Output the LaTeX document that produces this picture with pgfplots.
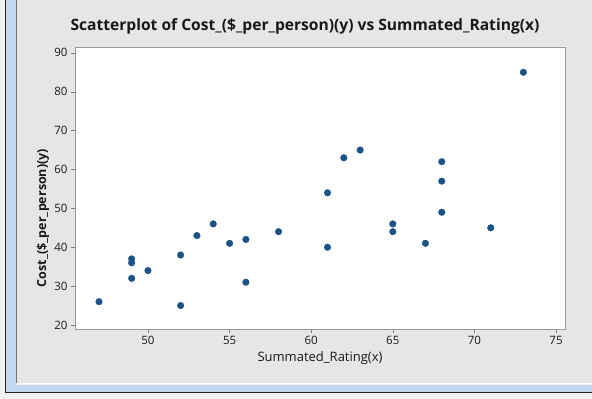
\documentclass[border=0pt]{standalone}
\usepackage{fontspec}
\setmainfont{Open Sans}
\usepackage{pgfplots}
\pgfplotsset{compat=1.18}
\definecolor{bg}{HTML}{E6E6E6}
\definecolor{winblue}{HTML}{C3D8EE}
\definecolor{dotblue}{HTML}{1B5387}
\begin{document}
\begin{tikzpicture}[x=1pt,y=1pt]
\path[use as bounding box] (0,0) rectangle (592,399);
\fill[black!6] (0,0) rectangle (592,399);
\fill[winblue] (6,7) rectangle (592,14);
\fill[winblue] (6,7) rectangle (16,399);
\fill[bg] (17,16) rectangle (592,399);
\draw[black!85, line width=1pt] (5.5,399) -- (5.5,6.5) -- (592,6.5);
\draw[black!55, line width=1pt] (16.5,399) -- (16.5,15.5);
\draw[white, line width=1pt] (17,15.5) -- (592,15.5);
\node[font=\fontsize{15.6}{19}\selectfont\bfseries, text=black!90] at (305,373) {Scatterplot of Cost\_(\$\_per\_person)(y) vs Summated\_Rating(x)};
\node[font=\fontsize{13}{15}\selectfont, text=black!90] at (320,41) {Summated\_Rating(x)};
\node[font=\fontsize{12.5}{15}\selectfont\bfseries, text=black!90, rotate=90] at (43,181) {Cost\_(\$\_per\_person)(y)};
\begin{axis}[at={(75pt,70pt)}, anchor=south west, width=490pt, height=282pt, scale only axis,
  xmin=45.53, xmax=75.55, ymin=18.97, ymax=91.5,
  xtick={50,55,60,65,70,75}, ytick={20,30,40,50,60,70,80,90},
  axis background/.style={fill=white},
  axis line style={draw=black!40},
  tick style={draw=black!50}, major tick length=4pt,
  tick align=outside, xtick pos=bottom, ytick pos=left,
  ticklabel style={font=\fontsize{11.5}{13}\selectfont, text=black!90},
  /pgf/number format/assume math mode=true]
\addplot[only marks, mark=*, mark size=3.3pt, draw=dotblue, fill=dotblue] coordinates {
(47,26) (49,37) (49,36) (49,32) (50,34) (52,38) (52,25) (53,43) (54,46) (55,41)
(56,42) (56,31) (58,44) (61,54) (61,40) (62,63) (63,65) (65,46) (65,44) (67,41)
(68,62) (68,57) (68,49) (71,45) (73,85)
};
\end{axis}
\end{tikzpicture}
\end{document}
